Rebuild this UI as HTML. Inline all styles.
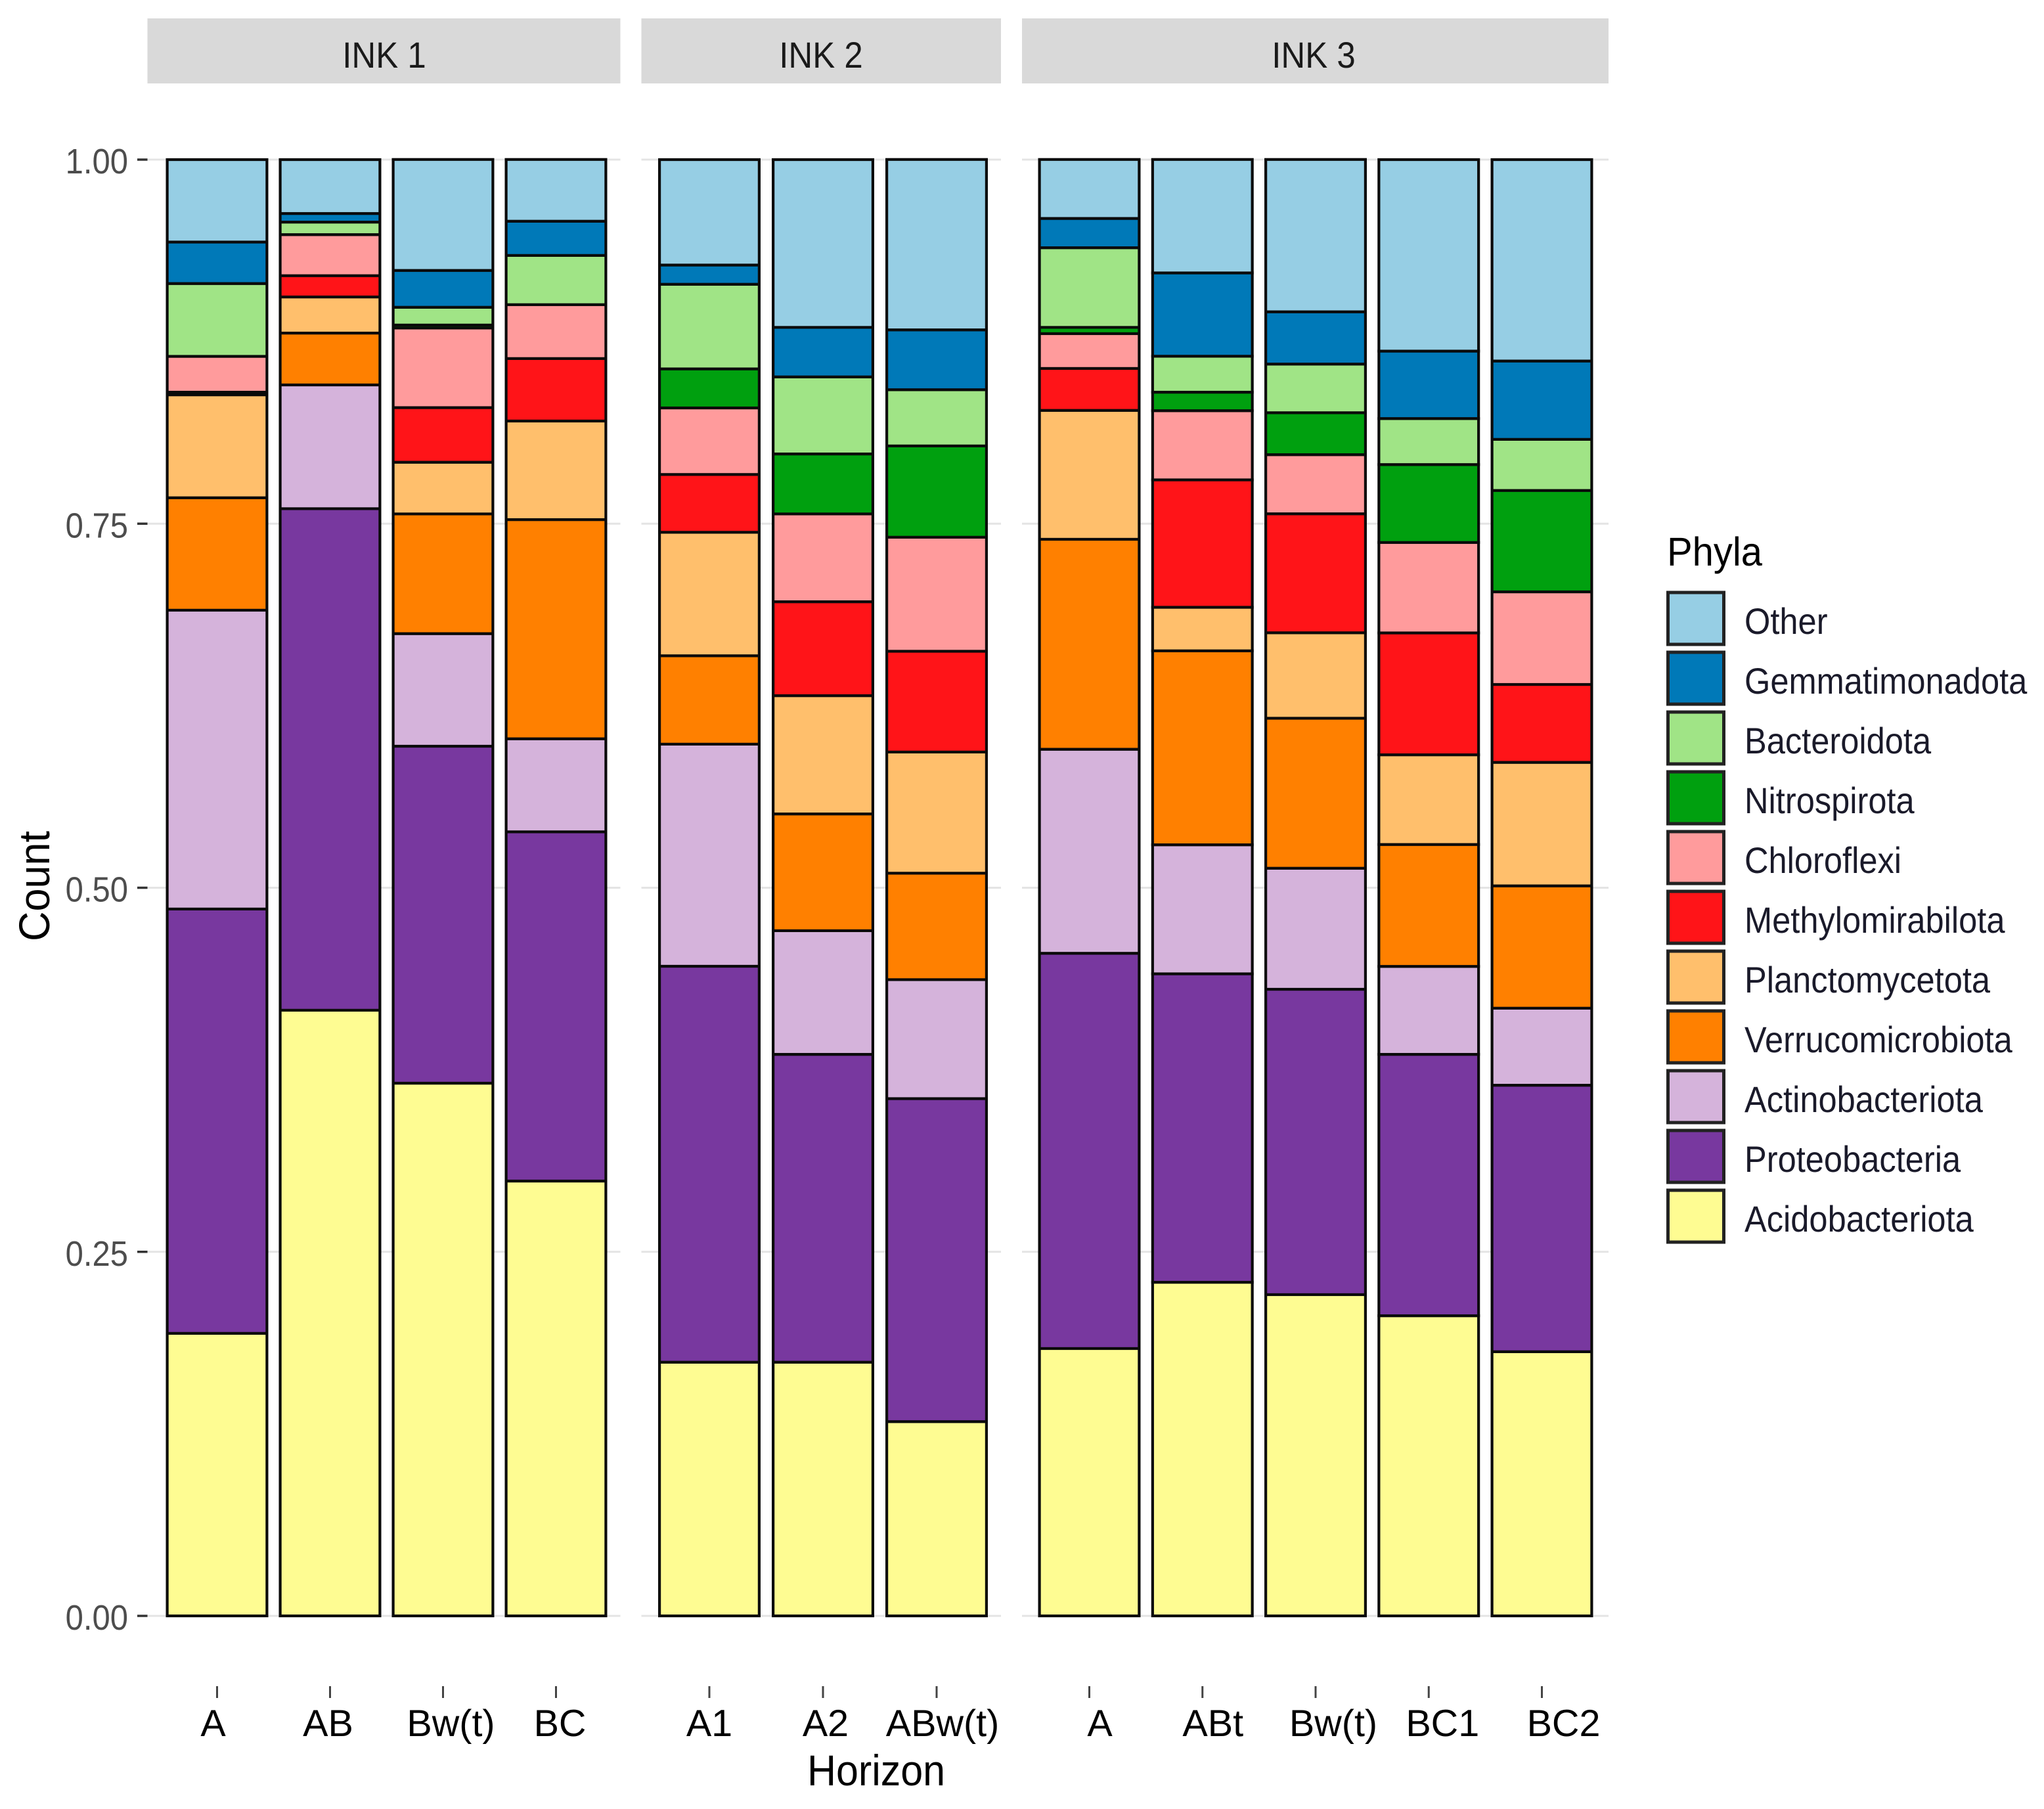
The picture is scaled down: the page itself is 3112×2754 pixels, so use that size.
<!DOCTYPE html>
<html lang="en">
<head>
<meta charset="utf-8">
<title>Phyla by horizon</title>
<style>
  html, body { margin: 0; padding: 0; background: #ffffff; }
  svg { display: block; font-family: "Liberation Sans", sans-serif; }
</style>
</head>
<body>
<svg id="chart" xmlns="http://www.w3.org/2000/svg" width="3112" height="2754" viewBox="0 0 3112 2754">
  <rect x="0" y="0" width="3112" height="2754" fill="#ffffff"/>
  <g id="grid"></g>
  <g id="strips"></g>
  <g id="yaxis"></g>
  <g id="xaxis"></g>
  <g id="bars"></g>
  <g id="legend"></g>
  <text transform="translate(1334,2718) scale(1,1.08)" font-size="61" text-anchor="middle" fill="#000000">Horizon</text>
  <text transform="translate(75,1349) rotate(-90) scale(1,1.05)" font-size="63" text-anchor="middle" fill="#000000">Count</text>
</svg>
<script>
// ---- Data ----
const facets = ['INK 1', 'INK 2', 'INK 3'];
const horizonsInk1 = ['A', 'AB', 'Bw(t)', 'BC'];
const horizonsInk2 = ['A1', 'A2', 'ABw(t)'];
const horizonsInk3 = ['A', 'ABt', 'Bw(t)', 'BC1', 'BC2'];
const yTicks = [0, 0.25, 0.5, 0.75, 1];
const yTickLabels = ['0.00', '0.25', '0.50', '0.75', '1.00'];

// One value per bar: INK 1 (4), INK 2 (3), INK 3 (5)
const acidobacteriota = [.1940, .4159, .3658, .2986, .1742, .1742, .1334, .1836, .2291, .2206, .2061, .1814];
const proteobacteria = [.2914, .3444, .2314, .2398, .2719, .2114, .2218, .2714, .2118, .2097, .1795, .1830];
const actinobacteriota = [.2052, .0850, .0773, .0639, .1525, .0849, .0817, .1401, .0886, .0831, .0604, .0529];
const verrucomicrobiota = [.0772, .0356, .0822, .1505, .0607, .0802, .0731, .1442, .1332, .1030, .0837, .0840];
const planctomycetota = [.0707, .0248, .0355, .0677, .0848, .0812, .0832, .0885, .0299, .0587, .0616, .0848];
const methylomirabilota = [.0018, .0146, .0375, .0429, .0397, .0645, .0692, .0288, .0875, .0817, .0837, .0535];
const chloroflexi = [.0246, .0282, .0547, .0370, .0457, .0603, .0783, .0239, .0475, .0406, .0621, .0636];
const nitrospirota = [0, 0, .0020, 0, .0268, .0412, .0627, .0043, .0127, .0288, .0535, .0696];
const bacteroidota = [.0500, .0086, .0122, .0338, .0581, .0529, .0386, .0547, .0247, .0334, .0316, .0351];
const gemmatimonadota = [.0285, .0059, .0253, .0235, .0132, .0340, .0411, .0201, .0572, .0359, .0463, .0538];
const other = [.0566, .0370, .0762, .0424, .0724, .1152, .1170, .0405, .0779, .1046, .1315, .1383];

// Bottom-to-top stacking order
const seriesNames = ['Acidobacteriota', 'Proteobacteria', 'Actinobacteriota', 'Verrucomicrobiota', 'Planctomycetota', 'Methylomirabilota', 'Chloroflexi', 'Nitrospirota', 'Bacteroidota', 'Gemmatimonadota', 'Other'];
const seriesValues = [acidobacteriota, proteobacteria, actinobacteriota, verrucomicrobiota, planctomycetota, methylomirabilota, chloroflexi, nitrospirota, bacteroidota, gemmatimonadota, other];

// ---- Presentation ----
const palette = {
  Acidobacteriota: '#FEFC92', Proteobacteria: '#78389F', Actinobacteriota: '#D5B3DB',
  Verrucomicrobiota: '#FF8000', Planctomycetota: '#FFBF6C', Methylomirabilota: '#FF1418',
  Chloroflexi: '#FF9B9C', Nitrospirota: '#00A00F', Bacteroidota: '#A0E486',
  Gemmatimonadota: '#0079B8', Other: '#96CEE4'
};
const layout = {
  yZero: 2460, ySpan: 2217, barOuter: 156, stroke: 4.2,
  panels: [
    { left: 224.5, right: 944.5, first: 330.5, step: 172, centerText: 585, horizons: horizonsInk1, nudge: [-6, -3, 12, 6], start: 0 },
    { left: 976.5, right: 1524, first: 1080, step: 173, centerText: 1250, horizons: horizonsInk2, nudge: [0, 4, 9], start: 4 },
    { left: 1556, right: 2449, first: 1658.5, step: 172.25, centerText: 2000, horizons: horizonsInk3, nudge: [16, 16, 27, 21, 33], start: 7 }
  ]
};

const NS = 'http://www.w3.org/2000/svg';
function make(tag, parent, attrs) {
  const el = document.createElementNS(NS, tag);
  for (const k in attrs) el.setAttribute(k, attrs[k]);
  parent.appendChild(el);
  return el;
}
function yScale(v) { return layout.yZero - v * layout.ySpan; }
function xScale(panel, i) { return panel.first + i * panel.step; }
function stretched(parent, str, x, y, size, sy, anchor, fill) {
  const t = make('text', parent, { transform: 'translate(' + x + ',' + y + ') scale(1,' + sy + ')', 'font-size': size, 'text-anchor': anchor, fill: fill });
  t.textContent = str;
  return t;
}

const gridG = document.getElementById('grid');
const stripG = document.getElementById('strips');
const yG = document.getElementById('yaxis');
const xG = document.getElementById('xaxis');
const barG = document.getElementById('bars');
const legG = document.getElementById('legend');

// Facets: strips, gridlines, x axis
layout.panels.forEach(function (panel, p) {
  const strip = make('rect', stripG, { x: panel.left, y: 28, width: panel.right - panel.left, height: 99, fill: '#D9D9D9' });
  
  
  const stripLabel = stretched(stripG, facets[p], panel.centerText, 103, 51, 1.1, 'middle', '#1a1a1a');
  
  

  yTicks.forEach(function (v) {
    const line = make('line', gridG, { x1: panel.left, x2: panel.right, y1: yScale(v), y2: yScale(v), stroke: '#E4E4E4', 'stroke-width': 3 });
    
    
  });

  panel.horizons.forEach(function (h, i) {
    const cx = xScale(panel, i);
    const tick = make('line', xG, { x1: cx, x2: cx, y1: 2567, y2: 2585, stroke: '#444444', 'stroke-width': 3 });
    
    
    const label = stretched(xG, h, cx + panel.nudge[i], 2643, 57.5, 1, 'middle', '#000000');
    
    
  });
});

// Y axis
yTicks.forEach(function (v, i) {
  const tick = make('line', yG, { x1: 209, x2: 224.5, y1: yScale(v), y2: yScale(v), stroke: '#333333', 'stroke-width': 3.5 });
  
  
  const label = stretched(yG, yTickLabels[i], 195, yScale(v) + 21, 49, 1.1, 'end', '#4D4D4D');
  
  
});

// Stacked bars
layout.panels.forEach(function (panel) {
  panel.horizons.forEach(function (h, i) {
    const idx = panel.start + i;
    const cx = xScale(panel, i);
    const w = layout.barOuter - layout.stroke;
    let cum = 0;
    seriesNames.forEach(function (name, s) {
      const v = seriesValues[s][idx];
      if (v > 0) {
        const rect = make('rect', barG, {
          x: cx - w / 2, y: yScale(cum + v), width: w, height: yScale(cum) - yScale(cum + v),
          fill: palette[name], stroke: '#0a0a0a', 'stroke-width': layout.stroke
        });
        
        
      }
      cum += v;
    });
  });
});

// Legend
const legendTitle = stretched(legG, 'Phyla', 2538, 861, 58, 1.06, 'start', '#000000');


seriesNames.slice().reverse().forEach(function (name, r) {
  const top = 902 + r * 91.0;
  const swatch = make('rect', legG, { x: 2539.5, y: top, width: 85, height: 79, fill: palette[name], stroke: '#222222', 'stroke-width': 5 });
  
  
  const label = stretched(legG, name, 2656, 965 + r * 91, 50.6, 1.1, 'start', '#1a1a2a');
  
  
});
</script>
</body>
</html>
